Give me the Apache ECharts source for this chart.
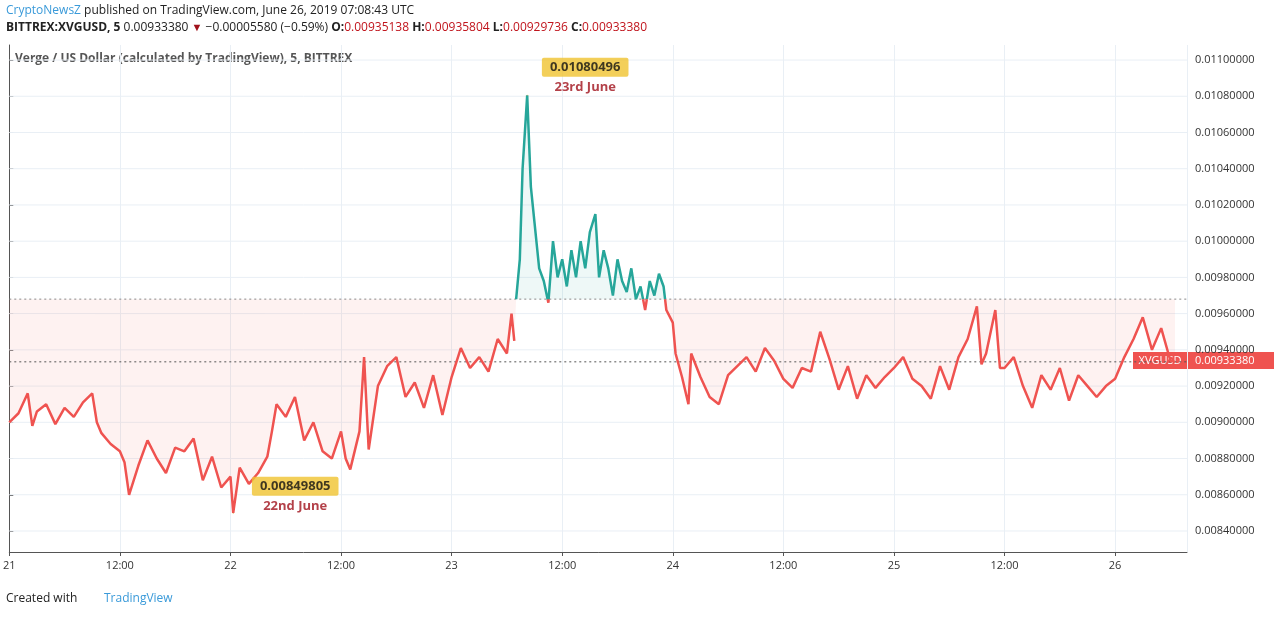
<!DOCTYPE html>
<html><head><meta charset="utf-8">
<script src="https://cdn.jsdelivr.net/npm/echarts@6/dist/echarts.min.js"></script>
<style>html,body{margin:0;padding:0;background:#fff}#c{width:1274px;height:618px}</style>
</head><body><div id="c"></div>
<script>
// hours since June 21 00:00 UTC
const hours = [0,1,2,2.5,3,4,5,6,7,8,9,9.5,10,11,12,12.5,13,13.5,14,15,16,17,18,19,20,21,22,23,
24,24.3,25,26,27,28,28.5,29,30,31,32,33,34,35,36,36.5,37,38,38.5,39,40,41,42,43,44,45,46,47,
48,49,50,51,52,53,54,54.5,54.8,55,55.4,55.7,56.2,56.6,57,57.5,58,58.5,59,59.5,60,60.5,61,61.5,62,62.5,63,63.6,64,64.5,65,65.5,66,66.5,67,67.5,68,68.5,69,69.5,70,70.5,71,71.3,72,72.3,73,73.7,
74,75,76,77,78,79,80,81,82,83,84,85,86,87,88,89,90,91,92,93,94,95,
96,97,98,99,100,101,102,103,104,105,105.5,106,107,107.5,108,109,110,111,112,113,114,115,116,117,118,119,
120,121,122,123,124,125,126,126.5];
const prices = [0.00900,0.00905,0.00916,0.00898,0.00906,0.00910,0.00899,0.00908,0.00903,0.00911,0.00916,0.00900,0.00894,0.00888,0.00884,0.00878,0.00860,0.00868,0.00876,0.00890,0.00880,0.00872,0.00886,0.00884,0.00891,0.00868,0.00881,0.00864,
0.00870,0.00850,0.00875,0.00866,0.00872,0.00881,0.00895,0.00910,0.00903,0.00914,0.00890,0.00900,0.00884,0.00880,0.00895,0.00880,0.00874,0.00895,0.00936,0.00885,0.00920,0.00931,0.00936,0.00914,0.00922,0.00908,0.00926,0.00904,
0.00925,0.00941,0.00930,0.00936,0.00928,0.00946,0.00938,0.00960,0.00945,0.00968,0.00990,0.01040,0.01080496,0.01030,0.01010,0.00985,0.00978,0.00966,0.01000,0.00980,0.00990,0.00975,0.00995,0.00980,0.01000,0.00985,0.01005,0.01015,0.00980,0.00995,0.00985,0.00970,0.00990,0.00978,0.00972,0.00985,0.00968,0.00975,0.00962,0.00978,0.00970,0.00982,0.00975,0.00962,0.00955,0.00938,0.00925,0.00910,
0.00938,0.00925,0.00914,0.00910,0.00926,0.00931,0.00936,0.00928,0.00941,0.00934,0.00924,0.00919,0.00930,0.00928,0.00950,0.00935,0.00918,0.00931,0.00913,0.00926,0.00919,0.00925,
0.00930,0.00936,0.00924,0.00920,0.00913,0.00931,0.00918,0.00936,0.00946,0.00964,0.00932,0.00938,0.00962,0.00930,0.00930,0.00936,0.00920,0.00908,0.00926,0.00918,0.00930,0.00912,0.00926,0.00920,0.00914,0.00920,
0.00924,0.00936,0.00946,0.00958,0.00940,0.00952,0.00934,0.0093338];
const baseline = 0.00968;
const lastPrice = 0.0093338;
const yTicks = [0.0084,0.0086,0.0088,0.0090,0.0092,0.0094,0.0096,0.0098,0.0100,0.0102,0.0104,0.0106,0.0108,0.0110];
const xLabels = {0:'21',12:'12:00',24:'22',36:'12:00',48:'23',60:'12:00',72:'24',84:'12:00',96:'25',108:'12:00',120:'26'};
const X_MAX = 127.8;

// sequence with baseline crossings inserted; split into upper (green) and lower (red) traces
const seq = [], up = [], down = [];
for (let i = 0; i < hours.length; i++) {
  const p = prices[i], h = hours[i];
  if (i > 0) {
    const p0 = prices[i-1], h0 = hours[i-1];
    if ((p0 - baseline) * (p - baseline) < 0) {
      const hc = h0 + (h - h0) * (baseline - p0) / (p - p0);
      seq.push([hc, baseline]); up.push([hc, baseline]); down.push([hc, baseline]);
    }
  }
  seq.push([h, p]);
  if (p >= baseline) { up.push([h, p]); down.push([h, null]); }
  else { down.push([h, p]); up.push([h, null]); }
}
const font = 'Open Sans';
const rich = {a:{backgroundColor:'#f0c330',color:'#111',fontWeight:'bold',fontSize:13,padding:[3,8],borderRadius:2},
              b:{color:'#a0121b',fontWeight:'bold',fontSize:13,align:'center',padding:[4,0,0,0]}};

function bandPoly(api, clampFn) {
  const pts = seq.map(d => api.coord([d[0], clampFn(d[1])]));
  pts.push(api.coord([seq[seq.length-1][0], baseline]));
  pts.push(api.coord([seq[0][0], baseline]));
  return pts;
}
const chart = echarts.init(document.getElementById('c'));
chart.setOption({
  animation:false,
  textStyle:{fontFamily:font},
  grid:{left:8,right:87,top:45,bottom:66},
  xAxis:{type:'value',min:0,max:X_MAX,interval:12,
    axisLine:{show:true,onZero:false,lineStyle:{color:'#555'}},
    axisTick:{show:true,lineStyle:{color:'#555'},length:4},
    axisLabel:{color:'#333',fontSize:11,formatter:v=>xLabels[v]||'',showMaxLabel:false},
    splitLine:{show:true,lineStyle:{color:'#e9eff5'}}},
  yAxis:{type:'value',position:'right',min:0.008284,max:0.011083,
    axisLine:{show:true,lineStyle:{color:'#555'}},
    axisTick:{show:true,customValues:yTicks,lineStyle:{color:'#555'},length:4},
    axisLabel:{customValues:yTicks,color:'#333',fontSize:11,formatter:v=>v.toFixed(8)},
    splitLine:{show:false}},
  series:[
    {type:'custom',silent:true,z:1,data:yTicks.map(v=>[0,v]),
      renderItem:(params,api)=>{const v=api.value(1);const a=api.coord([0,v]),b=api.coord([X_MAX,v]);
        return {type:'line',shape:{x1:a[0],y1:a[1],x2:b[0],y2:b[1]},style:{stroke:'#e9eff5',lineWidth:1}};}},
    {type:'custom',silent:true,z:2,data:[[0,baseline]],
      renderItem:(params,api)=>({type:'group',children:[
        {type:'polygon',shape:{points:bandPoly(api,v=>Math.min(v,baseline))},style:{fill:'rgba(239,83,80,0.08)'}},
        {type:'polygon',shape:{points:bandPoly(api,v=>Math.max(v,baseline))},style:{fill:'rgba(38,166,154,0.08)'}}]})},
    {type:'custom',silent:true,z:3,data:[[baseline,'#888'],[lastPrice,'#ef5350']],
      renderItem:(params,api)=>{const v=api.value(0);const a=api.coord([0,v]),b=api.coord([X_MAX,v]);
        return {type:'line',shape:{x1:a[0],y1:a[1],x2:b[0],y2:b[1]},
          style:{stroke:params.dataIndex===0?'#888':'#555',lineWidth:1,lineDash:[2,3]}};}},
    {type:'line',data:down,showSymbol:false,connectNulls:false,lineStyle:{width:2.5,color:'#ef5350'},z:5},
    {type:'line',data:up,showSymbol:false,connectNulls:false,lineStyle:{width:2.5,color:'#26a69a'},z:5},
    {type:'scatter',symbolSize:1,itemStyle:{color:'#c8a020'},z:6,
      data:[
        {value:[56.2,0.01080496],label:{show:true,position:'top',offset:[58,4],formatter:'{a|0.01080496}\n{b|23rd June}',rich}},
        {value:[24.3,0.00849805],label:{show:true,position:'top',offset:[62,5],formatter:'{a|0.00849805}\n{b|22nd June}',rich}}
      ]}
  ],
  graphic:[
    {type:'text',left:6,top:5,style:{text:'{a|CryptoNewsZ} published on TradingView.com, June 26, 2019 07:08:43 UTC',fontFamily:font,fontSize:12,fill:'#222',
      rich:{a:{fill:'#3a9ad9',fontSize:12,fontFamily:font}}}},
    {type:'text',left:6,top:22,style:{text:'{b|BITTREX:XVGUSD, 5} 0.00933380 {r|▼} −0.00005580 (−0.59%) {b|O:}{v|0.00935138} {b|H:}{v|0.00935804} {b|L:}{v|0.00929736} {b|C:}{v|0.00933380}',
      fontFamily:font,fontSize:12,fill:'#222',
      rich:{b:{fontWeight:'bold',fontSize:12,fill:'#222',fontFamily:font},v:{fill:'#c0141c',fontSize:12,fontFamily:font},r:{fill:'#a0121b',fontSize:11}}}},
    {type:'text',left:15,top:53,style:{text:'Verge / US Dollar (calculated by TradingView), 5, BITTREX',fontFamily:font,fontSize:12,fill:'#555',fontWeight:'bold'}},
    {type:'text',left:6,top:593,style:{text:'Created with',fontFamily:font,fontSize:12,fill:'#222'}},
    {type:'text',left:104,top:593,style:{text:'TradingView',fontFamily:font,fontSize:12,fill:'#3a9ad9'}},
    {type:'rect',shape:{x:1133,y:352,width:54,height:17},style:{fill:'#ef5350'}},
    {type:'text',x:1160,y:361,style:{text:'XVGUSD',fill:'#fff',fontSize:11,fontFamily:font,align:'center',verticalAlign:'middle'}},
    {type:'rect',shape:{x:1188,y:352,width:86,height:17},style:{fill:'#ef5350'}},
    {type:'text',x:1195,y:361,style:{text:lastPrice.toFixed(8),fill:'#fff',fontSize:11,fontFamily:font,verticalAlign:'middle'}}
  ]
});
</script></body></html>
